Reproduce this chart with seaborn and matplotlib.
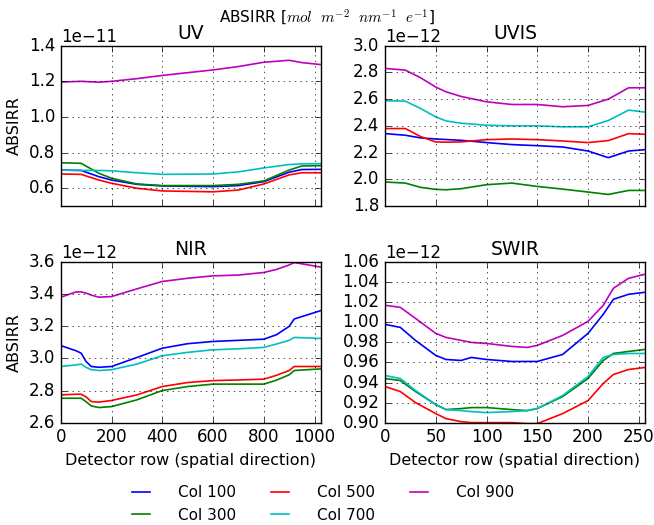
import numpy as np
import pandas as pd
import seaborn as sns
import matplotlib
matplotlib.use("Agg")
import matplotlib.pyplot as plt

cols = ['Col 100', 'Col 300', 'Col 500', 'Col 700', 'Col 900']
colors = ['b', 'g', 'r', 'c', 'm']

# UV (x 1e-11)
uv_x = [0, 80, 150, 200, 300, 400, 600, 700, 800, 900, 950, 1024]
uv = {
    'Col 100': [0.702, 0.700, 0.665, 0.646, 0.622, 0.613, 0.609, 0.615, 0.637, 0.690, 0.705, 0.706],
    'Col 300': [0.743, 0.740, 0.684, 0.656, 0.624, 0.615, 0.615, 0.622, 0.641, 0.702, 0.725, 0.727],
    'Col 500': [0.680, 0.678, 0.646, 0.628, 0.600, 0.585, 0.580, 0.590, 0.624, 0.675, 0.687, 0.687],
    'Col 700': [0.702, 0.700, 0.700, 0.698, 0.687, 0.678, 0.680, 0.692, 0.714, 0.733, 0.737, 0.738],
    'Col 900': [1.196, 1.200, 1.195, 1.200, 1.215, 1.233, 1.264, 1.283, 1.307, 1.318, 1.305, 1.294],
}

# UVIS (x 1e-12)
uvis_x = [0, 20, 35, 50, 60, 75, 100, 125, 150, 175, 200, 220, 240, 256]
uvis = {
    'Col 100': [2.342, 2.330, 2.310, 2.302, 2.298, 2.292, 2.275, 2.260, 2.252, 2.242, 2.212, 2.162, 2.212, 2.222],
    'Col 300': [1.980, 1.972, 1.940, 1.925, 1.922, 1.930, 1.960, 1.972, 1.947, 1.927, 1.905, 1.887, 1.917, 1.917],
    'Col 500': [2.380, 2.380, 2.320, 2.280, 2.278, 2.280, 2.297, 2.302, 2.297, 2.287, 2.275, 2.290, 2.342, 2.337],
    'Col 700': [2.588, 2.585, 2.530, 2.467, 2.437, 2.420, 2.405, 2.400, 2.400, 2.393, 2.393, 2.440, 2.518, 2.503],
    'Col 900': [2.830, 2.817, 2.760, 2.690, 2.655, 2.620, 2.580, 2.560, 2.560, 2.543, 2.553, 2.600, 2.685, 2.685],
}

# NIR (x 1e-12)
nir_x = [0, 60, 80, 100, 120, 150, 200, 300, 400, 500, 600, 700, 800, 850, 900, 920, 1024]
nir = {
    'Col 100': [3.080, 3.048, 3.033, 2.980, 2.950, 2.945, 2.950, 3.006, 3.064, 3.092, 3.106, 3.113, 3.120, 3.148, 3.200, 3.246, 3.298],
    'Col 300': [2.752, 2.752, 2.752, 2.730, 2.704, 2.694, 2.700, 2.742, 2.800, 2.825, 2.840, 2.840, 2.840, 2.865, 2.898, 2.925, 2.935],
    'Col 500': [2.773, 2.777, 2.777, 2.760, 2.731, 2.728, 2.738, 2.773, 2.825, 2.850, 2.862, 2.866, 2.871, 2.895, 2.925, 2.950, 2.950],
    'Col 700': [2.950, 2.960, 2.965, 2.944, 2.930, 2.925, 2.930, 2.965, 3.017, 3.038, 3.054, 3.060, 3.069, 3.090, 3.113, 3.131, 3.125],
    'Col 900': [3.382, 3.415, 3.415, 3.407, 3.395, 3.382, 3.386, 3.434, 3.480, 3.500, 3.515, 3.520, 3.536, 3.555, 3.583, 3.598, 3.570],
}

# SWIR (x 1e-12)
swir_x = [0, 15, 30, 50, 60, 75, 85, 100, 125, 140, 150, 175, 200, 215, 225, 240, 256]
swir = {
    'Col 100': [0.998, 0.995, 0.982, 0.967, 0.963, 0.962, 0.965, 0.963, 0.961, 0.961, 0.961, 0.968, 0.989, 1.008, 1.023, 1.028, 1.030],
    'Col 300': [0.944, 0.942, 0.931, 0.918, 0.913, 0.914, 0.915, 0.915, 0.913, 0.912, 0.914, 0.926, 0.944, 0.962, 0.969, 0.971, 0.973],
    'Col 500': [0.936, 0.931, 0.920, 0.909, 0.904, 0.901, 0.900, 0.900, 0.900, 0.899, 0.899, 0.909, 0.922, 0.939, 0.948, 0.953, 0.955],
    'Col 700': [0.947, 0.944, 0.932, 0.918, 0.913, 0.912, 0.911, 0.910, 0.911, 0.912, 0.914, 0.927, 0.946, 0.965, 0.968, 0.969, 0.969],
    'Col 900': [1.017, 1.015, 1.004, 0.989, 0.985, 0.982, 0.980, 0.979, 0.976, 0.975, 0.977, 0.987, 1.001, 1.017, 1.034, 1.044, 1.048],
}


def to_df(x, d, scale):
    rows = []
    for c in cols:
        for xi, yi in zip(x, d[c]):
            rows.append({'row': xi, 'val': yi * scale, 'col': c})
    return pd.DataFrame(rows)


plt.style.use('classic')
plt.rcParams['font.size'] = 12
plt.rcParams['axes.titlesize'] = 13.5
plt.rcParams['axes.labelsize'] = 11.5

fig, axes = plt.subplots(2, 2, figsize=(6.54, 5.25), dpi=100, sharex='col')
fig.subplots_adjust(left=0.093, right=0.986, top=0.913, bottom=0.195,
                    wspace=0.248, hspace=0.35)

panels = [
    (axes[0, 0], 'UV', uv_x, uv, 1e-11, (0.5, 1.4), np.arange(0.6, 1.41, 0.2)),
    (axes[0, 1], 'UVIS', uvis_x, uvis, 1e-12, (1.8, 3.0), np.arange(1.8, 3.01, 0.2)),
    (axes[1, 0], 'NIR', nir_x, nir, 1e-12, (2.6, 3.6), np.arange(2.6, 3.61, 0.2)),
    (axes[1, 1], 'SWIR', swir_x, swir, 1e-12, (0.90, 1.06), np.arange(0.90, 1.061, 0.02)),
]

for ax, name, x, d, scale, ylim, yt in panels:
    df = to_df(x, d, scale)
    sns.lineplot(data=df, x='row', y='val', hue='col', palette=colors,
                 hue_order=cols, ax=ax, legend=False, linewidth=1.2)
    ax.set_title(name)
    ax.set_ylim(ylim[0] * scale, ylim[1] * scale)
    ax.set_yticks(yt * scale)
    ax.grid(True)
    ax.set_xlabel('')
    ax.set_ylabel('')

axes[0, 0].set_xlim(0, 1024)
axes[0, 1].set_xlim(0, 256)
axes[1, 0].set_xticks([0, 200, 400, 600, 800, 1000])
axes[1, 1].set_xticks([0, 50, 100, 150, 200, 250])
axes[0, 0].set_ylabel('ABSIRR')
axes[1, 0].set_ylabel('ABSIRR')
axes[1, 0].set_xlabel('Detector row (spatial direction)')
axes[1, 1].set_xlabel('Detector row (spatial direction)')

fig.suptitle(r'ABSIRR [$mol\ \ m^{-2}\ \ nm^{-1}\ \ e^{-1}$]', fontsize=11, y=0.985)

handles = axes[0, 0].get_lines()[:5]
fig.legend(handles, cols, loc='lower center', bbox_to_anchor=(0.49, -0.022),
           ncol=3, frameon=False, fontsize=11, handlelength=1.8,
           handletextpad=1.5, columnspacing=2.0)

fig.savefig('out.png', dpi=100)
